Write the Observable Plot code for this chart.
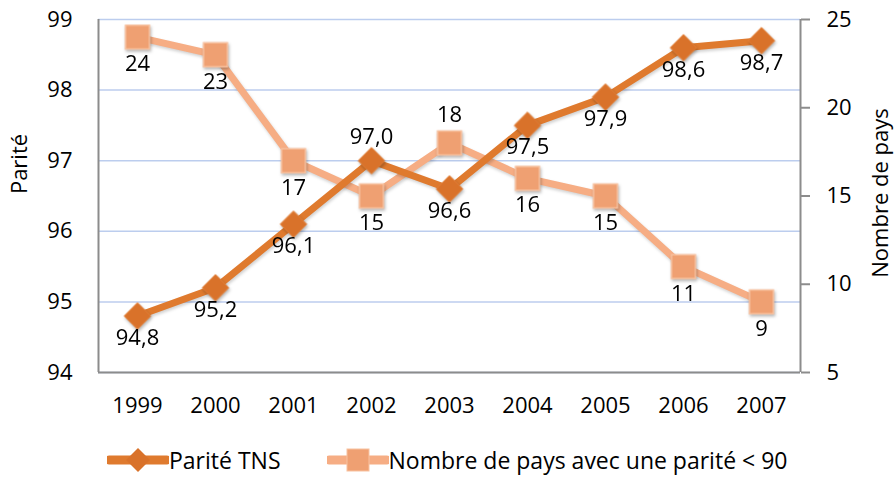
<!DOCTYPE html>
<html>
<head>
<meta charset="utf-8">
<script src="https://cdn.jsdelivr.net/npm/d3@7"></script>
<script src="https://cdn.jsdelivr.net/npm/@observablehq/plot@0.6"></script>
<style>
  body { margin: 0; background: #fff; font-family: "Open Sans", sans-serif; }
  #chart svg { display: block; }
  #chart g[aria-label="dot"] { filter: drop-shadow(1px 2px 1.5px rgba(0,0,0,0.28)); }
  #chart g[aria-label="line"] { filter: drop-shadow(1px 2px 1.5px rgba(0,0,0,0.18)); }
  #legend { display: flex; align-items: center; height: 39px; padding-left: 107px; font-size: 23px; color: #000; }
  .item { display: flex; align-items: center; }
  .item svg { display: block; }
</style>
</head>
<body>
<div id="chart"></div>
<div id="legend"></div>
<script>
const years = ["1999", "2000", "2001", "2002", "2003", "2004", "2005", "2006", "2007"];
const parite = [94.8, 95.2, 96.1, 97.0, 96.6, 97.5, 97.9, 98.6, 98.7];
const nombrePays = [24, 23, 17, 15, 18, 16, 15, 11, 9];
const pariteLabelPos = ["below", "below", "below", "above", "below", "below", "below", "below", "below"];
const paysLabelPos = ["below", "below", "below", "below", "above", "below", "below", "below", "below"];
const leftTicks = [94, 95, 96, 97, 98, 99];
const rightTicks = [5, 10, 15, 20, 25];
const seriesNames = ["Parité TNS", "Nombre de pays avec une parité < 90"];
const axisTitles = ["Parité", "Nombre de pays"];

const darkOrange = "#df7a2e";
const darkMarker = "#d9722a";
const lightOrange = "#f6ad84";
const lightMarker = "#efa072";

// right axis (5..25) mapped onto left axis units (94..99)
const toLeft = v => 94 + (v - 5) / 4;
const fromLeft = v => Math.round(5 + (v - 94) * 4);
const fmtFr = v => d3.format(".1f")(v).replace(".", ",");

const data = years.map((y, i) => ({
  i, year: y,
  parite: parite[i], pos1: pariteLabelPos[i],
  pays: nombrePays[i], paysL: toLeft(nombrePays[i]), pos2: paysLabelPos[i]
}));

const fs = 22;
const chart = Plot.plot({
  width: 895,
  height: 440,
  marginTop: 19,
  marginBottom: 68,
  marginLeft: 98,
  marginRight: 95,
  style: { fontFamily: "'Open Sans', sans-serif", fontSize: fs + "px", color: "#000", background: "#fff" },
  x: { type: "linear", domain: [-0.5, years.length - 0.5], axis: null },
  y: { domain: [94, 99], axis: null },
  marks: [
    Plot.gridY(leftTicks, { stroke: "#bccdee", strokeOpacity: 1, strokeWidth: 1.5 }),
    Plot.ruleX([-0.5], { stroke: "#8c8c8c", strokeWidth: 2 }),
    Plot.ruleX([years.length - 0.5], { stroke: "#8c8c8c", strokeWidth: 2 }),
    Plot.ruleY([94], { stroke: "#8c8c8c", strokeWidth: 2 }),
    Plot.axisY(leftTicks, { anchor: "left", tickSize: 0, tickPadding: 26, tickFormat: d => d, fontSize: fs, label: null }),
    Plot.axisY(rightTicks.map(toLeft), { anchor: "right", tickSize: 9, tickPadding: 17, stroke: "#8c8c8c", strokeWidth: 2, tickFormat: fromLeft, fontSize: fs, label: null }),
    Plot.axisX(years.map((_, i) => i), { anchor: "bottom", tickSize: 0, tickPadding: 25, tickFormat: i => years[i], fontSize: fs, label: null }),
    Plot.text([axisTitles[0]], { frameAnchor: "left", textAnchor: "middle", text: d => d, rotate: -90, dx: -79, dy: -32, fontSize: fs }),
    Plot.text([axisTitles[1]], { frameAnchor: "right", textAnchor: "middle", text: d => d, rotate: -90, dx: 80, dy: -3, fontSize: fs }),
    Plot.line(data, { x: "i", y: "paysL", stroke: lightOrange, strokeWidth: 7, strokeLinejoin: "round" }),
    Plot.line(data, { x: "i", y: "parite", stroke: darkOrange, strokeWidth: 7, strokeLinejoin: "round" }),
    Plot.dot(data, { x: "i", y: "parite", symbol: "diamond2", r: 12, fill: darkMarker, stroke: "#e5823a", strokeWidth: 1 }),
    Plot.dot(data, { x: "i", y: "paysL", symbol: "square", r: 13.5, fill: lightMarker, stroke: "#f8c2a0", strokeWidth: 1.5 }),
    Plot.text(data, { x: "i", y: "parite", text: d => fmtFr(d.parite), fontSize: fs,
      filter: d => d.pos1 === "below", dy: 22 }),
    Plot.text(data, { x: "i", y: "parite", text: d => fmtFr(d.parite), fontSize: fs,
      filter: d => d.pos1 === "above", dy: -24 }),
    Plot.text(data, { x: "i", y: "paysL", text: d => String(d.pays), fontSize: fs,
      filter: d => d.pos2 === "below", dy: 27 }),
    Plot.text(data, { x: "i", y: "paysL", text: d => String(d.pays), fontSize: fs,
      filter: d => d.pos2 === "above", dy: -28 })
  ]
});
document.getElementById("chart").append(chart);

// legend
const legend = d3.select("#legend");
const items = [
  { name: seriesNames[0], line: darkOrange, marker: "diamond", fill: darkMarker },
  { name: seriesNames[1], line: lightOrange, marker: "square", fill: lightMarker }
];
items.forEach((it, k) => {
  const div = legend.append("div").attr("class", "item").style("margin-left", k === 0 ? "0px" : "46px");
  const s = div.append("svg").attr("width", 62).attr("height", 30);
  s.append("line").attr("x1", 2).attr("x2", 60).attr("y1", 15).attr("y2", 15)
    .attr("stroke", it.line).attr("stroke-width", 9).attr("stroke-linecap", "round");
  if (it.marker === "diamond") {
    s.append("path").attr("d", "M31,3L43,15L31,27L19,15Z").attr("fill", it.fill);
  } else {
    s.append("rect").attr("x", 20).attr("y", 4).attr("width", 22).attr("height", 22).attr("fill", it.fill).attr("stroke", "#f8c2a0");
  }
  div.append("span").text(it.name);
});
</script>
</body>
</html>
